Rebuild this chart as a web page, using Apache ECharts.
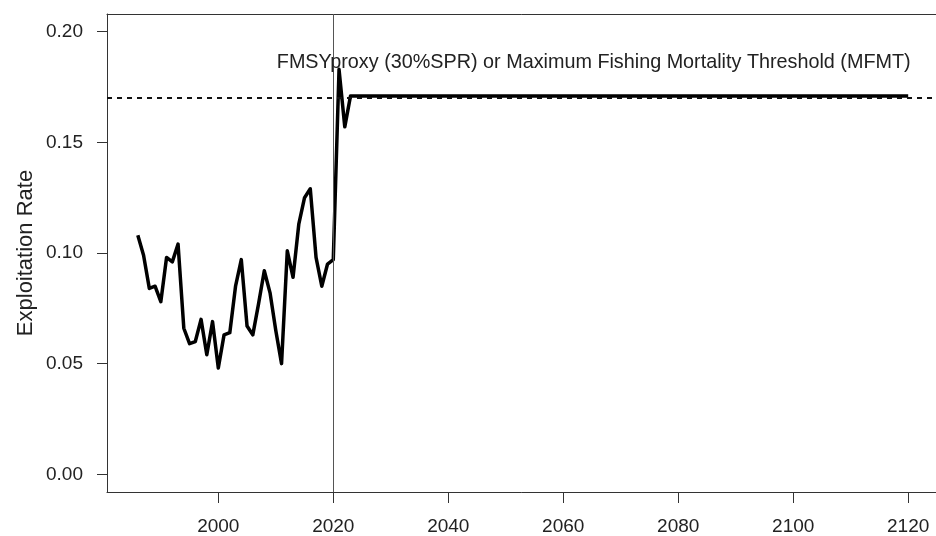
<!DOCTYPE html>
<html>
<head>
<meta charset="utf-8">
<script src="https://cdn.jsdelivr.net/npm/echarts@6/dist/echarts.min.js"></script>
<style>
html,body{margin:0;padding:0;background:#fff;}
#chart{width:936px;height:536px;}
</style>
</head>
<body>
<div id="chart"></div>
<script>
// Data
const years = [1986,1987,1988,1989,1990,1991,1992,1993,1994,1995,1996,1997,1998,1999,2000,2001,2002,2003,2004,2005,2006,2007,2008,2009,2010,2011,2012,2013,2014,2015,2016,2017,2018,2019,2020,2021,2022,2023,2120];
const exploitationRate = [0.108,0.099,0.084,0.085,0.078,0.098,0.096,0.104,0.066,0.059,0.060,0.070,0.054,0.069,0.048,0.063,0.064,0.085,0.097,0.067,0.063,0.077,0.092,0.082,0.065,0.050,0.101,0.089,0.113,0.125,0.129,0.098,0.085,0.095,0.097,0.183,0.157,0.171,0.171];
const xTicks = [2000,2020,2040,2060,2080,2100,2120];
const yTicks = [0.00,0.05,0.10,0.15,0.20];
const mfmt = 0.171;
const terminalYear = 2020;
const refLabel = 'FMSYproxy (30%SPR) or Maximum Fishing Mortality Threshold (MFMT)';
const refLabelPos = [2065.3, 0.186];
const yTitle = 'Exploitation Rate';

const FONT = '"Liberation Sans", Arial, sans-serif';
const chart = echarts.init(document.getElementById('chart'), null, {renderer:'canvas'});
const lineData = years.map((y,i)=>[y, exploitationRate[i]]);
const X_MIN = 1980.64, X_MAX = 2125.36;

chart.setOption({
  animation:false,
  backgroundColor:'#fff',
  grid:{left:107, width:832, top:14, height:478, show:false, outerBoundsMode:'none', containLabel:false},
  xAxis:[{
    type:'value', min:X_MIN, max:X_MAX, position:'bottom',
    splitLine:{show:false},
    axisLine:{show:true, onZero:false, lineStyle:{color:'#333', width:1}},
    axisTick:{show:true, inside:false, length:11, customValues:xTicks, lineStyle:{color:'#333'}},
    axisLabel:{show:true, customValues:xTicks, margin:25, color:'#222', fontSize:19, fontFamily:FONT, formatter:v=>String(v)}
  },{
    type:'value', min:X_MIN, max:X_MAX, position:'top',
    splitLine:{show:false},
    axisLine:{show:true, onZero:false, lineStyle:{color:'#333', width:1}},
    axisTick:{show:false}, axisLabel:{show:false}
  }],
  yAxis:{
    type:'value', min:-0.008, max:0.208,
    name:yTitle, nameLocation:'middle', nameRotate:90, nameGap:70, nameMoveOverlap:false,
    nameTextStyle:{color:'#222', fontSize:22, fontFamily:FONT},
    splitLine:{show:false},
    axisLine:{show:true, onZero:false, lineStyle:{color:'#333', width:1}},
    axisTick:{show:true, inside:false, length:10, customValues:yTicks, lineStyle:{color:'#333'}},
    axisLabel:{show:true, customValues:yTicks, margin:24, color:'#222', fontSize:19, fontFamily:FONT, formatter:v=>v.toFixed(2)}
  },
  series:[
    {
      type:'line', data:[], silent:true,
      markLine:{silent:true, symbol:['none','none'], label:{show:false},
        lineStyle:{color:'#111', width:2, type:[5,5]},
        data:[{yAxis:mfmt}]}
    },
    {
      type:'line', data:[], silent:true,
      markLine:{silent:true, symbol:['none','none'], label:{show:false},
        lineStyle:{color:'#555', width:1, type:'solid'},
        data:[{xAxis:terminalYear}]}
    },
    {
      type:'line', data:lineData, showSymbol:false, symbol:'none',
      lineStyle:{color:'#000', width:3.5, join:'round'},
      markPoint:{silent:true, symbol:'circle', symbolSize:0,
        label:{show:true, position:'inside', formatter:refLabel, color:'#222', fontSize:19.8, fontFamily:FONT},
        data:[{coord:refLabelPos}]}
    }
  ]
});
</script>
</body>
</html>
